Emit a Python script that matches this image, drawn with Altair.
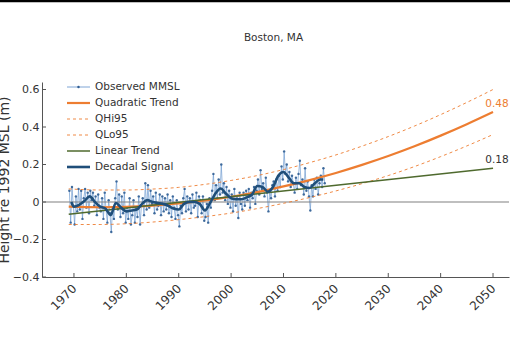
import altair as alt
import pandas as pd

# ---------------- data ----------------
obs_start = 1969.125          # first quarterly sample
obs_step = 0.25
obs_vals = [
    0.06, -0.11, 0.08, -0.02,
    -0.12, 0.03, -0.05, 0.07,
    -0.04, 0.06, -0.09, 0.02,
    0.07, -0.03, 0.05, -0.06,
    0.06, 0.01, 0.05, -0.02,
    0.03, -0.07, 0.04, -0.03,
    -0.05, 0.02, -0.09, 0.05,
    -0.04, -0.11, 0.01, -0.06,
    -0.16, -0.03, -0.09, 0.02,
    0.11, -0.04, 0.04, -0.08,
    0.03, -0.06, 0.05, -0.11,
    -0.03, -0.09, 0.02, -0.12,
    -0.07, 0.01, -0.11, -0.03,
    -0.08, 0.03, -0.12, -0.02,
    0.02, -0.07, 0.10, -0.04,
    0.09, -0.03, 0.06, -0.01,
    0.03, -0.06, 0.05, -0.04,
    -0.02, 0.04, -0.07, 0.03,
    -0.05, 0.02, -0.04, 0.04,
    -0.06, 0.01, -0.08, 0.03,
    -0.03, -0.09, 0.01, -0.07,
    -0.13, -0.02, -0.06, 0.02,
    0.07, -0.05, 0.03, -0.04,
    0.02, -0.06, 0.04, -0.03,
    -0.02, 0.05, -0.08, 0.03,
    0.01, -0.06, 0.03, -0.10,
    -0.08, -0.01, -0.11, 0.02,
    -0.03, 0.06, 0.15, 0.01,
    0.09, 0.02, 0.12, 0.04,
    0.20, 0.05, 0.10, 0.01,
    0.08, -0.01, 0.06, -0.03,
    0.04, -0.05, 0.07, -0.02,
    0.03, -0.085, 0.05, -0.01,
    -0.04, 0.05, -0.02, 0.06,
    0.01, 0.07, -0.03, 0.05,
    0.02, 0.08, -0.01, 0.06,
    0.12, 0.04, 0.17, 0.07,
    0.10, 0.03, 0.13, 0.05,
    -0.05, 0.06, 0.02, 0.09,
    0.11, 0.03, 0.12, 0.06,
    0.14, 0.08, 0.19, 0.12,
    0.27, 0.15, 0.20, 0.11,
    0.16, 0.08, 0.14, 0.10,
    0.05, 0.13, 0.07, 0.15,
    0.22, 0.09, 0.12, 0.04,
    0.18, 0.06, 0.11, 0.03,
    -0.045, 0.09, 0.03, 0.12,
    0.07, 0.13, 0.04, 0.10,
    0.14, 0.08, 0.18, 0.10,
]

dec_years = [1969.5, 1970, 1971, 1972, 1973, 1974, 1975, 1976, 1977, 1978,
             1979, 1980, 1981, 1982, 1983, 1984, 1985, 1986, 1987, 1988,
             1989, 1990, 1991, 1992, 1993, 1994, 1995, 1996, 1997, 1998,
             1999, 2000, 2001, 2002, 2003, 2004, 2005, 2006, 2007, 2008,
             2009, 2010, 2011, 2012, 2013, 2014, 2015, 2016, 2017, 2017.6]
dec_vals = [0.0, -0.025, -0.015, 0.005, 0.03, 0.0, -0.025, -0.035, -0.07, -0.005,
            -0.03, -0.05, -0.045, -0.04, -0.01, 0.01, 0.0, -0.005, -0.01, -0.02,
            -0.035, -0.04, -0.01, 0.0, 0.0, -0.01, -0.045, -0.005, 0.045, 0.072,
            0.045, 0.02, 0.015, 0.015, 0.025, 0.04, 0.085, 0.08, 0.055, 0.08,
            0.14, 0.16, 0.13, 0.10, 0.10, 0.08, 0.075, 0.10, 0.12, 0.12]

trend_years = [1969, 1975, 1980, 1985, 1990, 1995, 2000, 2005, 2010,
               2015, 2020, 2025, 2030, 2035, 2040, 2045, 2050]
quad_vals = [-0.025, -0.028, -0.026, -0.019, -0.008, 0.008, 0.028, 0.053, 0.083,
             0.117, 0.155, 0.198, 0.245, 0.297, 0.354, 0.415, 0.480]
qhi_vals = [0.070, 0.064, 0.064, 0.069, 0.078, 0.094, 0.115, 0.141, 0.173,
            0.210, 0.251, 0.298, 0.349, 0.405, 0.466, 0.531, 0.600]
qlo_vals = [-0.120, -0.120, -0.116, -0.107, -0.094, -0.078, -0.059, -0.035, -0.007,
            0.024, 0.059, 0.098, 0.141, 0.189, 0.242, 0.299, 0.360]

lin_years = [1969, 2050]
lin_vals = [-0.065, 0.18]

end_labels = ["0.48", "0.18"]
end_vals = [0.48, 0.18]
end_year = 2050

x_ticks = [1970, 1980, 1990, 2000, 2010, 2020, 2030, 2040, 2050]
y_ticks = [-0.4, -0.2, 0, 0.2, 0.4, 0.6]

title_text = "Boston, MA"
legend_labels = ["Observed MMSL", "Quadratic Trend", "QHi95", "QLo95",
                 "Linear Trend", "Decadal Signal"]

# ---------------- style ----------------
FONT = "DejaVu Sans"
TXT = "#333333"
C_OBS_LINE = "#6f9bd0"
C_OBS_PT = "#2f5d92"
C_QUAD = "#ed7d31"
C_LIN = "#4f6a2e"
C_DEC = "#1f4e79"
W, H = 467, 195

xs = alt.Scale(domain=[1963.9, 2053.05], nice=False, zero=False)
ys = alt.Scale(domain=[-0.4, 0.64], nice=False, zero=False)

obs_df = pd.DataFrame({"year": [obs_start + i * obs_step for i in range(len(obs_vals))],
                       "v": obs_vals})
dec_df = pd.DataFrame({"year": dec_years, "v": dec_vals})
tr_df = pd.DataFrame({"year": trend_years, "q": quad_vals, "hi": qhi_vals, "lo": qlo_vals})
lin_df = pd.DataFrame({"year": lin_years, "v": lin_vals})
end_df = pd.DataFrame({"year": [end_year, end_year], "v": end_vals, "t": end_labels})
xt_df = pd.DataFrame({"year": x_ticks})
yt_df = pd.DataFrame({"v": y_ticks})
zero_df = pd.DataFrame({"v": [0]})

x_axis = alt.Axis(values=x_ticks, format="d", labelAngle=-45, labelAlign="right",
                  labelBaseline="middle", labelPadding=9, labelFontSize=12,
                  tickSize=0, grid=False, title=None, domainColor="#555555",
                  labelColor=TXT, labelFont=FONT, labelFlush=False, labelOverlap=False)
y_axis = alt.Axis(values=y_ticks, format=".1~f", labelFontSize=11, labelPadding=3,
                  tickSize=0, grid=False, domainColor="#555555", labelColor=TXT,
                  labelFont=FONT, labelOverlap=False, labelFlush=False,
                  title="Height re 1992 MSL (m)",
                  titleFontSize=14, titleFontWeight="normal", titleColor=TXT,
                  titleFont=FONT, titleAngle=-90, titleX=-34, titleY=H / 2,
                  titleAlign="center", titleBaseline="alphabetic")


def XX(f="year:Q"):
    return alt.X(f, scale=xs, axis=x_axis)


def YY(f):
    return alt.Y(f, scale=ys, axis=y_axis)


obs_line = alt.Chart(obs_df).mark_line(color=C_OBS_LINE, strokeWidth=0.7).encode(
    x=XX(), y=YY("v:Q"))
obs_pts = alt.Chart(obs_df).mark_circle(color=C_OBS_PT, size=6, opacity=0.9).encode(
    x=XX(), y=YY("v:Q"))

zero = alt.Chart(zero_df).mark_rule(color="#808080", strokeWidth=1.2).encode(y=YY("v:Q"))

qhi = alt.Chart(tr_df).mark_line(color=C_QUAD, strokeWidth=0.9, strokeDash=[3, 3],
                                 interpolate="monotone").encode(x=XX(), y=YY("hi:Q"))
qlo = alt.Chart(tr_df).mark_line(color=C_QUAD, strokeWidth=0.9, strokeDash=[3, 3],
                                 interpolate="monotone").encode(x=XX(), y=YY("lo:Q"))
quad = alt.Chart(tr_df).mark_line(color=C_QUAD, strokeWidth=2.2,
                                  interpolate="monotone").encode(x=XX(), y=YY("q:Q"))
lin = alt.Chart(lin_df).mark_line(color=C_LIN, strokeWidth=1.5).encode(
    x=XX(), y=YY("v:Q"))
dec = alt.Chart(dec_df).mark_line(color=C_DEC, strokeWidth=2.6,
                                  interpolate="monotone").encode(x=XX(), y=YY("v:Q"))

end_q = alt.Chart(end_df.iloc[[0]]).mark_text(color=C_QUAD, fontSize=10.5, font=FONT, dx=4,
                                              dy=-8, align="center", baseline="middle").encode(
    x=XX(), y=YY("v:Q"), text="t:N")
end_l = alt.Chart(end_df.iloc[[1]]).mark_text(color=TXT, fontSize=10.5, font=FONT, dx=4,
                                              dy=-8, align="center", baseline="middle").encode(
    x=XX(), y=YY("v:Q"), text="t:N")

# inward ticks
xticks = alt.Chart(xt_df).mark_rule(color="#555555", strokeWidth=1).encode(
    x=XX(), y=alt.value(H - 4), y2=alt.value(H))
yticks = alt.Chart(yt_df).mark_rule(color="#555555", strokeWidth=1).encode(
    y=YY("v:Q"), x=alt.value(0), x2=alt.value(4))

# legend
legend_layers = []
styles = [
    dict(color=C_OBS_LINE, strokeWidth=0.9),
    dict(color=C_QUAD, strokeWidth=2.2),
    dict(color=C_QUAD, strokeWidth=0.9, strokeDash=[3, 3]),
    dict(color=C_QUAD, strokeWidth=0.9, strokeDash=[3, 3]),
    dict(color=C_LIN, strokeWidth=1.5),
    dict(color=C_DEC, strokeWidth=2.6),
]
for i, (lab, st) in enumerate(zip(legend_labels, styles)):
    yy = 5 + 16 * i
    ldf = pd.DataFrame({"label": [lab]})
    legend_layers.append(alt.Chart(ldf).mark_rule(**st).encode(
        x=alt.value(25), x2=alt.value(48), y=alt.value(yy)))
    legend_layers.append(alt.Chart(ldf).mark_text(align="left", baseline="middle",
                                                  fontSize=10.5, font=FONT, color=TXT).encode(
        x=alt.value(53), y=alt.value(yy), text="label:N"))
    if i == 0:
        legend_layers.append(alt.Chart(ldf).mark_circle(color=C_OBS_PT, size=6, opacity=1).encode(
            x=alt.value(36.5), y=alt.value(yy)))

# title as a text mark and the thin black bar at the very top of the figure
title_mark = alt.Chart(pd.DataFrame({"t": [title_text]})).mark_text(
    fontSize=10.5, font=FONT, color=TXT, align="center", baseline="middle").encode(
    x=alt.value(W / 2 - 2), y=alt.value(-44), text="t:N")
topbar = alt.Chart(pd.DataFrame({"k": [0]})).mark_rule(color="black", strokeWidth=2.5).encode(
    x=alt.value(-42), x2=alt.value(W + 1), y=alt.value(-81))

chart = alt.layer(
    obs_line, obs_pts, zero, qhi, qlo, quad, lin, dec, end_q, end_l,
    xticks, yticks, title_mark, topbar, *legend_layers
).properties(
    width=W, height=H,
    autosize=alt.AutoSizeParams(type="none"),
    padding={"left": 42, "top": 82, "right": 1, "bottom": 64},
    background="white",
).configure_view(stroke=None).configure_axis(labelOverlap=False)

chart.save("out.html", embed_options={"renderer": "svg", "actions": False})
